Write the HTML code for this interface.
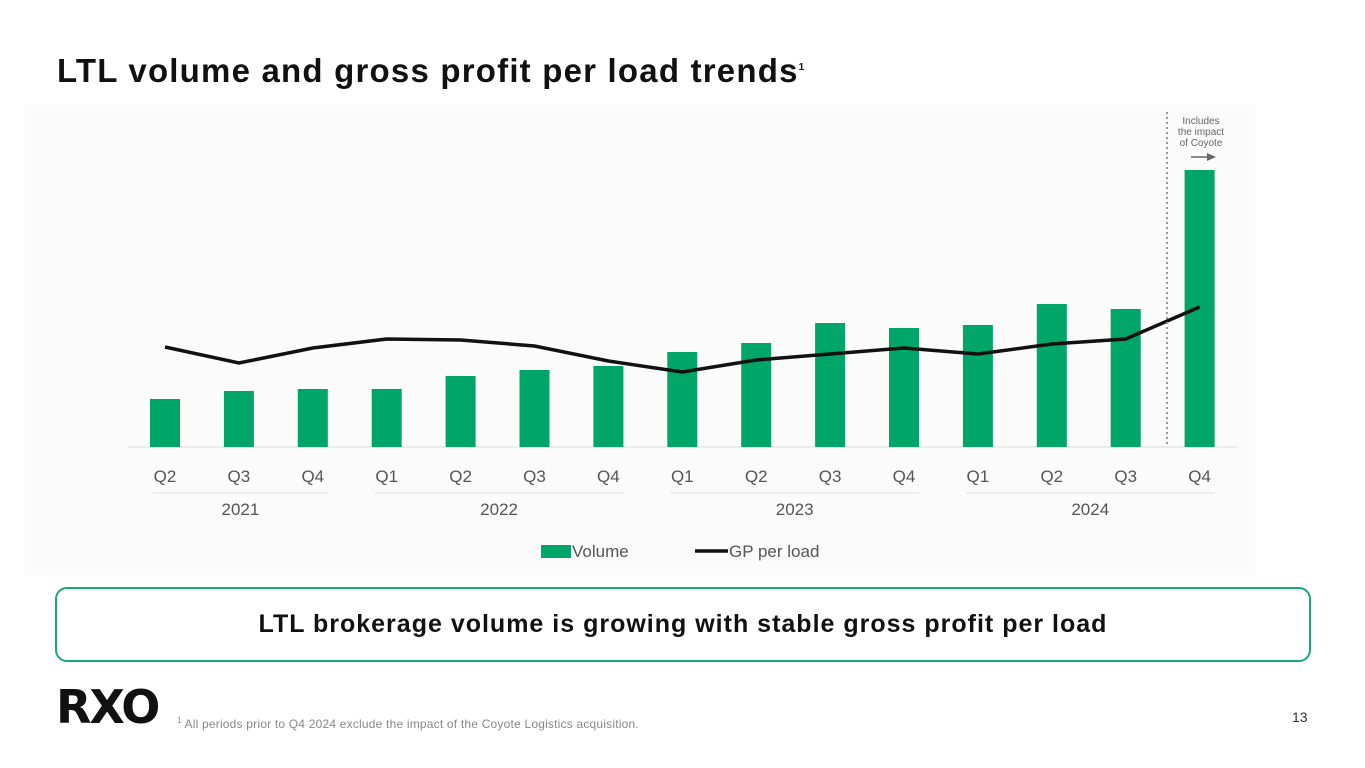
<!DOCTYPE html>
<html><head><meta charset="utf-8"><style>
body{margin:0;width:1365px;height:768px;background:#fff;font-family:"Liberation Sans",sans-serif;position:relative;overflow:hidden}
.t{position:absolute;left:57px;top:52px;font-size:33px;font-weight:bold;color:#111;letter-spacing:1.2px}
.box{position:absolute;left:55px;top:587px;width:1256px;height:75px;border:2px solid #1aa874;border-radius:12px;box-sizing:border-box;display:flex;align-items:center;justify-content:center;font-size:25px;font-weight:bold;color:#111;letter-spacing:1px}
.logo{position:absolute;left:56px;top:680px;font-size:46px;font-weight:900;letter-spacing:-2px;color:#111;font-family:"DejaVu Sans",sans-serif}
.fn{position:absolute;left:177px;top:716px;font-size:12px;color:#888;letter-spacing:0.2px}
.pg{position:absolute;left:1292px;top:709px;font-size:14px;color:#333}
svg{position:absolute;left:0;top:0}
</style></head><body>
<div class="t">LTL volume and gross profit per load trends<sup style="font-size:10px">1</sup></div>
<svg width="1365" height="768" id="ch">
<rect x="25" y="105" width="1230" height="470" fill="#fbfbfb"/>
</svg>
<div class="box">LTL brokerage volume is growing with stable gross profit per load</div>
<div class="logo">RXO</div>
<div class="fn"><sup style="font-size:8px">1</sup> All periods prior to Q4 2024 exclude the impact of the Coyote Logistics acquisition.</div>
<div class="pg">13</div>
<script>
const categories=["Q2","Q3","Q4","Q1","Q2","Q3","Q4","Q1","Q2","Q3","Q4","Q1","Q2","Q3","Q4"];
const volume=[48,56,58,58,71,77,81,95,104,124,119,122,143,138,277];
const gpPerLoad=[100,84,99,108,107,101,86,75,87,93,99,93,103,108,140];
const years=["2021","2022","2023","2024"];
const yearStart=[0,3,7,11];
const yearEnd=[2,6,10,14];
const NS="http://www.w3.org/2000/svg";
const svg=document.getElementById('ch');
const x=i=>165+i*73.9;
const yV=v=>447-v;
const yG=v=>447-v;
function mk(t,a,p){const e=document.createElementNS(NS,t);for(const k in a)e.setAttribute(k,a[k]);(p||svg).appendChild(e);return e;}
mk('line',{x1:128,x2:1238,y1:447,y2:447,stroke:'#ddd'});
volume.forEach((v,i)=>{const r=mk('rect',{x:x(i)-15,y:yV(v),width:30,height:v,fill:'#00a56a'});

});
categories.forEach((c,i)=>{const t=mk('text',{x:x(i),y:482,'text-anchor':'middle','font-size':17,fill:'#555'});t.textContent=c;

});
years.forEach((yr,j)=>{const a=x(yearStart[j])-12,b=x(yearEnd[j])+15;
mk('line',{x1:a,x2:b,y1:493,y2:493,stroke:'#ddd'});
const t=mk('text',{x:(a+b)/2,y:515,'text-anchor':'middle','font-size':17,fill:'#555'});t.textContent=yr;

});
const pl=mk('polyline',{points:gpPerLoad.map((v,i)=>x(i)+','+yG(v)).join(' '),fill:'none',stroke:'#111','stroke-width':3.5});


mk('line',{x1:1167,x2:1167,y1:112,y2:447,stroke:'#999','stroke-width':2,'stroke-dasharray':'2 3'});
["Includes","the impact","of Coyote"].forEach((s,i)=>{const t=mk('text',{x:1201,y:124+i*11,'text-anchor':'middle','font-size':10,fill:'#666'});t.textContent=s;});
mk('line',{x1:1191,x2:1208,y1:157,y2:157,stroke:'#666','stroke-width':1.5});
mk('polygon',{points:'1216,157 1207,153 1207,161',fill:'#666'});
const lg=mk('g',{});
mk('rect',{x:541,y:545,width:30,height:13,fill:'#00a56a'},lg);
const l1=mk('text',{x:572,y:557,'font-size':17,fill:'#555'},lg);l1.textContent='Volume';
mk('line',{x1:695,x2:728,y1:551,y2:551,stroke:'#111','stroke-width':3.5},lg);
const l2=mk('text',{x:729,y:557,'font-size':17,fill:'#555'},lg);l2.textContent='GP per load';
</script>
</body></html>
